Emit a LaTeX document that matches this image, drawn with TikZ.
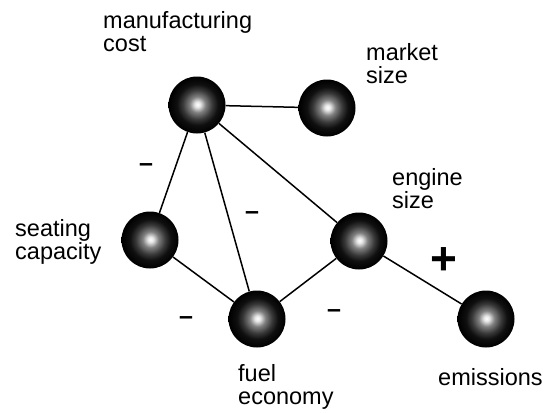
\documentclass[tikz,border=0pt]{standalone}
\usepackage{fontspec}
\setmainfont{Liberation Sans}
\pgfdeclareradialshading{sphereshade}{\pgfpoint{0.5bp}{0.5bp}}{color(0bp)=(white); color(2.5bp)=(white!90!black); color(7bp)=(black!50); color(13bp)=(black!78); color(18bp)=(black!94); color(25bp)=(black); color(50bp)=(black)}
\begin{document}
\begin{tikzpicture}[x=1pt,y=-1pt,
  ball/.style={circle, minimum size=57pt, inner sep=0pt, shading=sphereshade},
  edge/.style={line width=1.5pt, black},
  lbl/.style={anchor=base west, inner sep=0pt, align=left, font=\fontsize{23.5}{23}\selectfont},
  minussign/.style={anchor=base, inner sep=0pt, font=\fontsize{25}{25}\selectfont\bfseries},
  plussign/.style={anchor=base, inner sep=0pt, font=\fontsize{46}{46}\selectfont\bfseries}]
\useasboundingbox (0,0) rectangle (548,412);
\fill[white] (0,0) rectangle (548,412);
% spheres
\node[ball] (mfg) at (197,105) {};
\node[ball] (mkt) at (327,108) {};
\node[ball] (seat) at (150,240) {};
\node[ball] (eng) at (359,241) {};
\node[ball] (fuel) at (257,319) {};
\node[ball] (emi) at (486,319) {};
% connectors
\draw[edge] (mfg) -- (mkt);
\draw[edge] (mfg) -- (seat);
\draw[edge] (mfg) -- (fuel);
\draw[edge] (mfg) -- (eng);
\draw[edge] (seat) -- (fuel);
\draw[edge] (fuel) -- (eng);
\draw[edge] (eng) -- (emi);
% labels (base = last line's baseline)
\node[lbl] (lmfg) at (103,52) {manufacturing\\cost};
\node[lbl] (lmkt) at (366,83) {market\\size};
\node[lbl] (lseat) at (15,259) {seating\\capacity};
\node[lbl] (leng) at (392,208) {engine\\size};
\node[lbl] (lfuel) at (238,404) {fuel\\economy};
\node[lbl] (lemi) at (438,385) {emissions};
% signs
\node[minussign] (s1) at (146,171) {–};
\node[minussign] (s2) at (252,219) {–};
\node[minussign] (s3) at (186,324) {–};
\node[minussign] (s4) at (334,317) {–};
\node[plussign] (s5) at (444,274) {+};
\end{tikzpicture}
\end{document}
